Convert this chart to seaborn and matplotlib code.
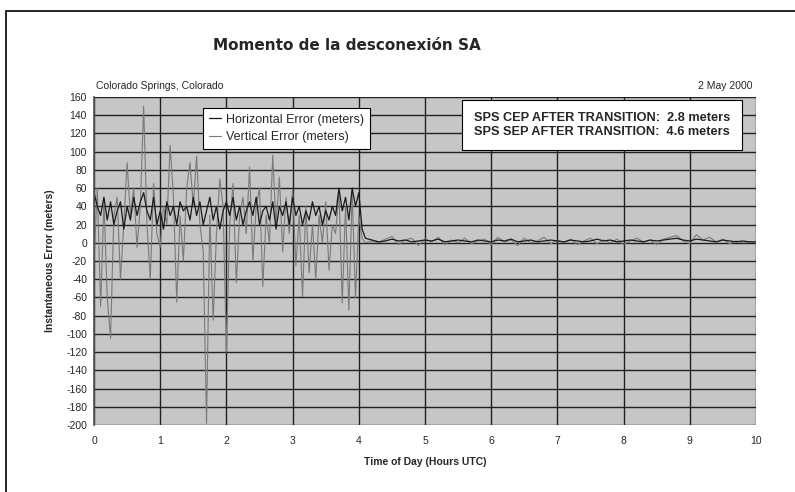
import numpy as np
import pandas as pd
import matplotlib
matplotlib.use("Agg")
import matplotlib.pyplot as plt
from matplotlib.patches import Rectangle
import seaborn as sns

# datos (horas UTC, metros)
hours_sa = [0.00, 0.05, 0.10, 0.15, 0.20, 0.25, 0.30, 0.35, 0.40, 0.45,
            0.50, 0.55, 0.60, 0.65, 0.70, 0.75, 0.80, 0.85, 0.90, 0.95,
            1.00, 1.05, 1.10, 1.15, 1.20, 1.25, 1.30, 1.35, 1.40, 1.45,
            1.50, 1.55, 1.60, 1.65, 1.70, 1.75, 1.80, 1.85, 1.90, 1.95,
            2.00, 2.05, 2.10, 2.15, 2.20, 2.25, 2.30, 2.35, 2.40, 2.45,
            2.50, 2.55, 2.60, 2.65, 2.70, 2.75, 2.80, 2.85, 2.90, 2.95,
            3.00, 3.05, 3.10, 3.15, 3.20, 3.25, 3.30, 3.35, 3.40, 3.45,
            3.50, 3.55, 3.60, 3.65, 3.70, 3.75, 3.80, 3.85, 3.90, 3.95,
            4.00, 4.05, 4.10]
vert_sa = [-20, 60, -70, 45, -60, -105, 30, 50, -40, 20,
           88, 30, 60, -5, 40, 150, 20, -40, 65, 10,
           -5, 40, 20, 107, 50, -65, 30, -20, 60, 88,
           40, 95, 20, -10, -198, 30, -85, 10, 70, 40,
           -120, 20, 65, -44, 30, 50, 10, 83, -20, 40,
           60, -48, 30, 0, 96, 20, 72, -10, 50, 10,
           58, -25, 30, -59, 40, -33, 20, -40, 30, 0,
           45, -30, 20, 10, 58, -66, 40, -74, 55, -60,
           30, 5, 0]
horiz_sa = [55, 40, 30, 50, 25, 45, 20, 35, 45, 15,
            40, 25, 50, 30, 45, 55, 35, 25, 50, 20,
            35, 15, 45, 30, 40, 20, 45, 35, 40, 25,
            50, 30, 45, 20, 35, 50, 25, 40, 15, 35,
            45, 30, 50, 25, 40, 20, 35, 45, 30, 50,
            20, 35, 40, 25, 45, 15, 40, 30, 45, 20,
            50, 30, 40, 20, 35, 25, 45, 30, 40, 20,
            35, 25, 40, 30, 60, 35, 50, 25, 60, 40,
            55, 15, 5]

hours_post = [4.2, 4.3, 4.4, 4.5, 4.6, 4.7, 4.8, 4.9, 5.0, 5.1,
              5.2, 5.3, 5.4, 5.5, 5.6, 5.7, 5.8, 5.9, 6.0, 6.1,
              6.2, 6.3, 6.4, 6.5, 6.6, 6.7, 6.8, 6.9, 7.0, 7.1,
              7.2, 7.3, 7.4, 7.5, 7.6, 7.7, 7.8, 7.9, 8.0, 8.1,
              8.2, 8.3, 8.4, 8.5, 8.6, 8.7, 8.8, 8.9, 9.0, 9.1,
              9.2, 9.3, 9.4, 9.5, 9.6, 9.7, 9.8, 9.9, 10.0]
vert_post = [2, 0, 4, 7, -2, 3, 5, -3, 4, 1,
             6, -2, 3, 0, 5, -1, 2, 4, -2, 6,
             1, 3, -3, 5, 0, 2, 6, -1, 3, 0,
             4, -2, 2, 5, -1, 3, 0, 4, -2, 2,
             5, 1, 3, -2, 4, 6, 8, 2, -1, 9,
             3, 6, 1, 4, -1, 2, 0, 1, 0]
horiz_post = [3, 1, 2, 4, 2, 3, 1, 2, 3, 2,
              4, 1, 2, 3, 2, 1, 3, 2, 1, 3,
              2, 4, 1, 2, 3, 1, 2, 3, 2, 1,
              3, 2, 1, 2, 4, 2, 3, 1, 2, 3,
              2, 1, 3, 2, 3, 4, 5, 3, 2, 4,
              3, 2, 1, 3, 2, 1, 2, 1, 1]

df = pd.DataFrame({
    "hora": hours_sa + hours_post,
    "Horizontal Error (meters)": horiz_sa + horiz_post,
    "Vertical Error (meters)": vert_sa + vert_post,
})

sns.set_theme(style="white")
plt.rcParams['font.family'] = ['Liberation Sans Narrow', 'Liberation Sans', 'DejaVu Sans']
plt.rcParams['axes.unicode_minus'] = False

fig = plt.figure(figsize=(7.95, 4.92), dpi=100)
ax = fig.add_axes([94 / 795, 1 - 425 / 492, 662 / 795, 328 / 492])
ax.set_facecolor("#c6c6c6")

sns.lineplot(data=df, x="hora", y="Vertical Error (meters)", ax=ax,
             color="#7a7a7a", lw=0.8, label="Vertical Error (meters)")
sns.lineplot(data=df, x="hora", y="Horizontal Error (meters)", ax=ax,
             color="#1a1a1a", lw=0.9, label="Horizontal Error (meters)")

ax.set_xlim(0, 10)
ax.set_ylim(-200, 160)
ax.set_xticks(range(0, 11))
ax.set_yticks(range(-200, 161, 20))
ax.grid(True, color="#202020", lw=1.0)
ax.set_axisbelow(True)
for s in ax.spines.values():
    s.set_visible(False)
ax.spines["left"].set_visible(True)
ax.spines["left"].set_color("#555555")
ax.tick_params(axis="y", length=3, color="#333333", labelsize=7.5, pad=2)
ax.tick_params(axis="x", length=0, labelsize=7.5, pad=8)

ax.set_xlabel("Time of Day (Hours UTC)", fontsize=7.5, fontweight="bold", labelpad=8)
ax.set_ylabel("Instantaneous Error (meters)", fontsize=7.5, fontweight="bold", labelpad=8)

# leyenda con el orden original
h, l = ax.get_legend_handles_labels()
leg = ax.legend(h[::-1], l[::-1], loc="upper left",
                bbox_to_anchor=(103 / 662, 0.985), fontsize=9, frameon=True,
                fancybox=False, edgecolor="black", framealpha=1,
                handlelength=1.0, handletextpad=0.4, borderpad=0.45,
                labelspacing=0.45)
leg.get_frame().set_linewidth(0.8)

ax.text(0.574, 0.955,
        "SPS CEP AFTER TRANSITION:  2.8 meters\nSPS SEP AFTER TRANSITION:  4.6 meters",
        transform=ax.transAxes, ha="left", va="top", fontsize=9.2,
        fontweight="bold", linespacing=1.25,
        bbox=dict(boxstyle="square,pad=0.9", fc="white", ec="black", lw=0.8))

fig.text(347 / 795, 1 - 45 / 492, "Momento de la desconexión SA", ha="center",
         va="center", fontsize=11, fontweight="bold", family="DejaVu Sans")
fig.text(96 / 795, 1 - 86 / 492, "Colorado Springs, Colorado", ha="left",
         va="center", fontsize=7.5)
fig.text(752 / 795, 1 - 86 / 492, "2 May 2000", ha="right", va="center",
         fontsize=7.5)

# marco exterior
fig.patches.append(Rectangle((6 / 795, -0.02), 1.0, 1 - 11 / 492 + 0.02,
                             transform=fig.transFigure, fill=False,
                             ec="black", lw=1.2))

fig.savefig("out.png", dpi=100)
